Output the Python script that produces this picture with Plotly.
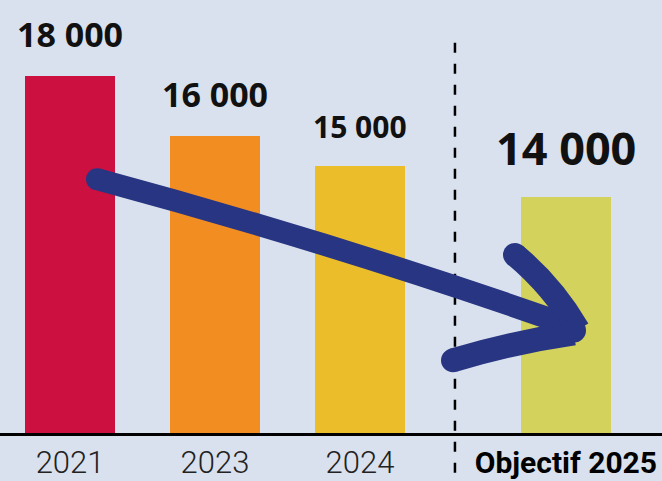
import plotly.graph_objects as go

# ---- data ----
categories = ["2021", "2023", "2024", "Objectif 2025"]
values = [18000, 16000, 15000, 14000]
colors = ["#cc1040", "#f28d22", "#ebbd2a", "#d2d25d"]
label_sizes = [34, 34, 30, 45]

W, H = 662, 481
B = 46
PH = H - B  # plot-area height in px

# category slots: three observed years, then a wider gap before the target
xpos = [0, 1, 2, 3.42]
bar_w = 0.62
xr = [-0.483, 4.083]
yr = [6180, 20503]

BG = "#d9e1ee"
NAVY = "#283582"


def fmt(v):
    return f"{v:,}".replace(",", " ")


fig = go.Figure(
    go.Bar(
        x=xpos,
        y=values,
        width=bar_w,
        marker=dict(color=colors, line=dict(width=0)),
        hoverinfo="skip",
    )
)

for i, v in enumerate(values):
    fig.add_annotation(
        x=xpos[i], y=v, xref="x", yref="y",
        text=f"<b>{fmt(v)}</b>",
        showarrow=False, yanchor="bottom", yshift=17,
        font=dict(family="Open Sans", size=label_sizes[i], color="#111111"),
    )

ticktext = [
    c if i < 3 else f"<span style='font-weight:700;font-size:30px;color:#000'>{c}</span>"
    for i, c in enumerate(categories)
]


# decorative hand-drawn arrow (pixel coords -> paper coords)
def P(px, py):
    return f"{px / W:.5f},{(PH - py) / PH:.5f}"


def circle(px, py, r):
    return dict(
        type="circle", xref="paper", yref="paper",
        x0=(px - r) / W, x1=(px + r) / W,
        y0=(PH - py - r) / PH, y1=(PH - py + r) / PH,
        fillcolor=NAVY, line=dict(width=0), layer="above",
    )


shapes = [
    # dashed separator
    dict(type="line", xref="x", yref="paper",
         x0=2.655, x1=2.655, y0=(PH - 43) / PH, y1=(PH - 481) / PH,
         line=dict(color="#000000", width=2.5, dash="10px,11px"), layer="above"),
    # shaft
    dict(type="path", xref="paper", yref="paper",
         path=f"M{P(97,180)} Q{P(344,247)} {P(572,328)}",
         line=dict(color=NAVY, width=22), layer="above"),
    # upper arm
    dict(type="path", xref="paper", yref="paper",
         path=f"M{P(515,256)} Q{P(553,288)} {P(578,331)}",
         line=dict(color=NAVY, width=24), layer="above"),
    # lower arm
    dict(type="path", xref="paper", yref="paper",
         path=f"M{P(453,362)} Q{P(512,344)} {P(574,335)}",
         line=dict(color=NAVY, width=24), layer="above"),
    circle(97, 180, 11),
    circle(515, 256, 12),
    circle(453, 362, 12),
    circle(574, 332, 12),
]

fig.update_layout(
    width=W, height=H,
    margin=dict(l=0, r=0, t=0, b=B),
    paper_bgcolor=BG, plot_bgcolor=BG,
    showlegend=False,
    shapes=shapes,
    bargap=0,
    xaxis=dict(
        range=xr, tickmode="array", tickvals=xpos, ticktext=ticktext,
        showgrid=False, zeroline=False,
        showline=True, linecolor="#000000", linewidth=3,
        ticks="", fixedrange=True,
        tickfont=dict(family="Roboto", size=31, color="#222222", weight=300),
    ),
    yaxis=dict(range=yr, visible=False, showgrid=False, zeroline=False, fixedrange=True),
)

fig.write_html(
    "out.html",
    config={"displayModeBar": False},
    post_script="document.body.style.margin='0';document.body.style.overflow='hidden';",
)
